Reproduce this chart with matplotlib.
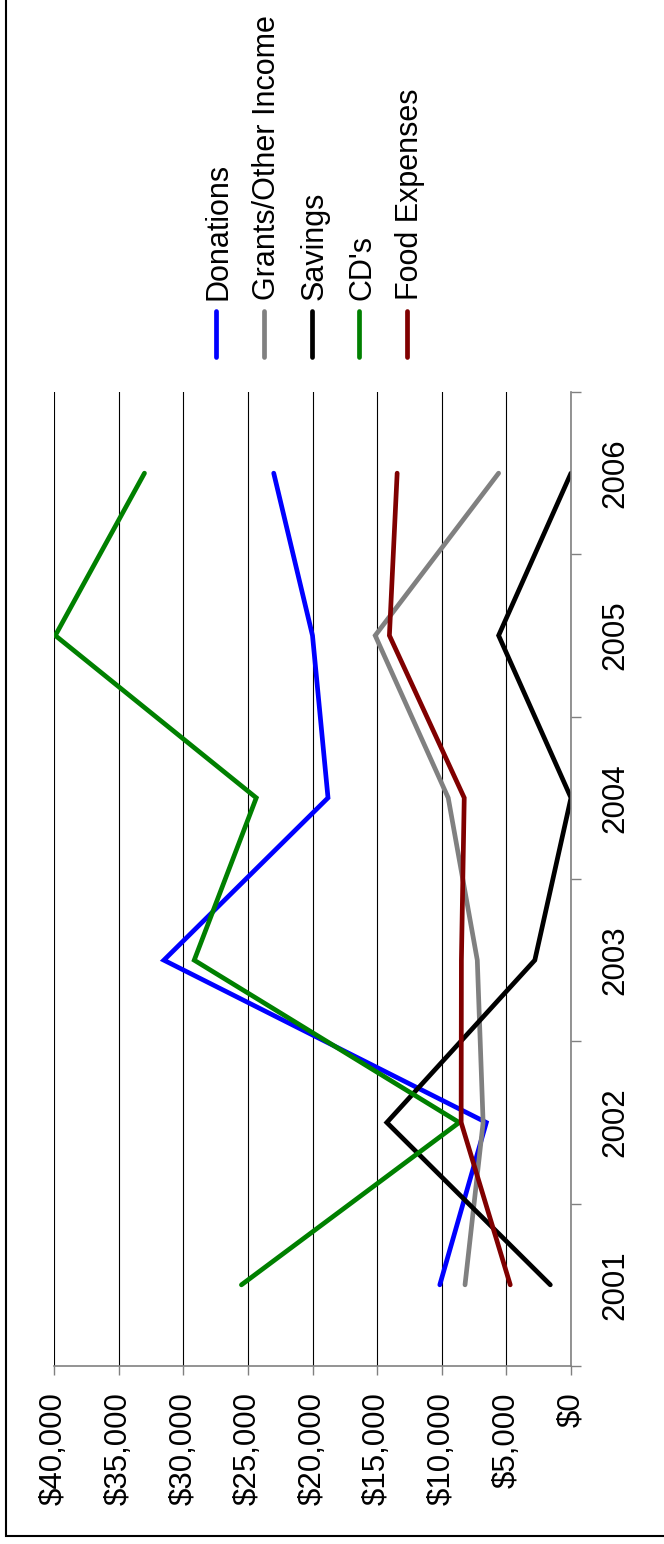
import matplotlib
matplotlib.use("Agg")
import matplotlib.pyplot as plt
from matplotlib.lines import Line2D
from matplotlib.ticker import FixedLocator

plt.rcParams['font.family'] = ['Liberation Sans', 'DejaVu Sans']

years = ['2001', '2002', '2003', '2004', '2005', '2006']
series_names = ['Donations', 'Grants/Other Income', 'Savings', "CD's", 'Food Expenses']
donations = [10150, 6550, 31500, 18800, 20000, 23000]
grants = [8200, 6800, 7250, 9500, 15150, 5600]
savings = [1600, 14250, 2800, 0, 5600, 0]
cds = [25500, 8650, 29150, 24350, 39900, 33000]
food = [4700, 8500, 8480, 8260, 14050, 13450]
value_ticks = [0, 5000, 10000, 15000, 20000, 25000, 30000, 35000, 40000]
value_labels = ['$0', '$5,000', '$10,000', '$15,000', '$20,000', '$25,000',
                '$30,000', '$35,000', '$40,000']

colors = ['#0000FF', '#808080', '#000000', '#008000', '#800000']
series = [donations, grants, savings, cds, food]

W, H = 664, 1544
fig = plt.figure(figsize=(W / 100, H / 100), dpi=100)
fig.patch.set_facecolor('white')

# plot area in pixels: x 54..571, y (top) 392..1366
ax = fig.add_axes([54 / W, (H - 1366) / H, 517 / W, 974 / H])
pos = list(range(len(years)))

for vals, c in zip(series, colors):
    ax.plot(vals, pos, color=c, lw=3.4, solid_capstyle='round',
            solid_joinstyle='miter', zorder=3)

ax.set_xlim(40000, 0)
ax.set_ylim(-0.5, len(years) - 0.5)

# value axis (bottom)
ax.xaxis.set_major_locator(FixedLocator(value_ticks))
ax.set_xticklabels(value_labels, rotation=90, fontsize=22.5)
ax.tick_params(axis='x', direction='out', length=6.8, width=1, color='#808080', pad=12)
ax.grid(axis='x', color='black', lw=0.8, zorder=1)

# category axis (right)
ax.yaxis.tick_right()
ax.set_yticks(pos)
ax.set_yticklabels(years, rotation=90, fontsize=22.5, va='center')
ax.set_yticks([p - 0.5 for p in pos] + [len(years) - 0.5], minor=True)
ax.tick_params(axis='y', which='major', length=0, pad=21)
ax.tick_params(axis='y', which='minor', direction='out', length=7.2, width=1,
               color='#808080', right=True, left=False)

for s in ['left', 'top']:
    ax.spines[s].set_visible(False)
for s in ['right', 'bottom']:
    ax.spines[s].set_color('#808080')
    ax.spines[s].set_linewidth(1.2)
    ax.spines[s].set_zorder(4)

# legend (rotated, manual placement)
leg_x0, leg_dx = 215.7, 47.9
for i, (name, c) in enumerate(zip(series_names, colors)):
    x = leg_x0 + i * leg_dx
    fig.add_artist(Line2D([x / W, x / W], [1 - 311 / H, 1 - 357 / H],
                          transform=fig.transFigure, color=c, lw=3.4,
                          solid_capstyle='round'))
    fig.text((x + 11) / W, 1 - 300 / H, name, rotation=90, rotation_mode='anchor',
             ha='left', va='baseline', fontsize=22)

# outer frame (only left and bottom edges visible)
fy = 1 - 1535.5 / H
fx = 6 / W
fig.add_artist(Line2D([fx, fx, 1], [1, fy, fy], transform=fig.transFigure,
                      color='black', lw=1.5, solid_joinstyle='miter'))

fig.savefig('out.png', dpi=100)
